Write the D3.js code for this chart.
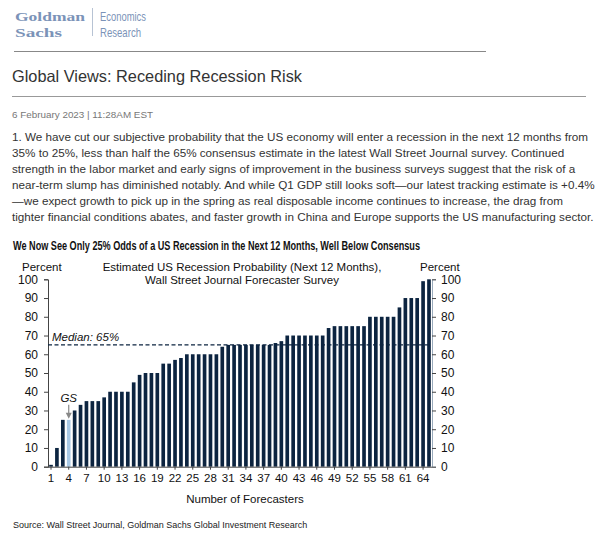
<!DOCTYPE html>
<html><head><meta charset="utf-8">
<script src="https://cdn.jsdelivr.net/npm/d3@7"></script>
<style>
html,body{margin:0;padding:0;background:#fff;}
svg{display:block;}
</style></head>
<body>
<svg id="c" width="600" height="536"></svg>
<script>
// ---- data ----
const forecasters = d3.range(1, 66);
const probabilities = [1,10,25,25,30,33,35,35,35,37,40,40,40,40,45,49,50,50,50,55,55,57,58,60,60,60,60,60,60,64,
  65,65,65,65,65,65,65,65,66,67,70,70,70,70,70,70,70,74,75,75,75,75,75,75,80,80,80,80,80,85,90,90,90,99,100];
const gsIndex = 4;
const medianValue = 65;
const yTicks = [0,10,20,30,40,50,60,70,80,90,100];
const xTickLabels = [1,4,7,10,13,16,19,22,25,28,31,34,37,40,43,46,49,52,55,58,61,64];
const paragraph = [
 "1. We have cut our subjective probability that the US economy will enter a recession in the next 12 months from",
 "35% to 25%, less than half the 65% consensus estimate in the latest Wall Street Journal survey. Continued",
 "strength in the labor market and early signs of improvement in the business surveys suggest that the risk of a",
 "near-term slump has diminished notably. And while Q1 GDP still looks soft\u2014our latest tracking estimate is +0.4%",
 "\u2014we expect growth to pick up in the spring as real disposable income continues to increase, the drag from",
 "tighter financial conditions abates, and faster growth in China and Europe supports the US manufacturing sector."
];

const svg = d3.select("#c");
const SANS = "'Liberation Sans', Arial, sans-serif";
const NARROW = "'Liberation Sans Narrow', 'Liberation Sans', Arial, sans-serif";

// ---- header / logo ----
const logoC = "#7b93b8";
const SERIF = "'Liberation Serif','DejaVu Serif',serif";
svg.append("text").attr("x",15).attr("y",21).attr("font-family",SERIF).attr("font-weight","bold").attr("font-size",13.5).attr("fill",logoC)
  .attr("textLength",70).attr("lengthAdjust","spacingAndGlyphs").text("Goldman");
svg.append("text").attr("x",15).attr("y",37).attr("font-family",SERIF).attr("font-weight","bold").attr("font-size",13.5).attr("fill",logoC)
  .attr("textLength",47).attr("lengthAdjust","spacingAndGlyphs").text("Sachs");
svg.append("line").attr("x1",92.5).attr("x2",92.5).attr("y1",8).attr("y2",36).attr("stroke","#b7c3d4").attr("stroke-width",1);
svg.append("text").attr("x",100).attr("y",21).attr("font-family",NARROW).attr("font-size",13.5).attr("fill",logoC)
  .attr("textLength",46).attr("lengthAdjust","spacingAndGlyphs").text("Economics");
svg.append("text").attr("x",100).attr("y",37).attr("font-family",NARROW).attr("font-size",13.5).attr("fill",logoC)
  .attr("textLength",41).attr("lengthAdjust","spacingAndGlyphs").text("Research");
svg.append("line").attr("x1",14).attr("x2",486).attr("y1",51.5).attr("y2",51.5).attr("stroke","#888").attr("stroke-width",1);

svg.append("text").attr("x",12).attr("y",82).attr("font-family",SANS).attr("font-size",16.5).attr("fill","#333")
  .attr("textLength",290).attr("lengthAdjust","spacingAndGlyphs")
  .text("Global Views: Receding Recession Risk");
svg.append("line").attr("x1",12).attr("x2",586).attr("y1",96.5).attr("y2",96.5).attr("stroke","#999").attr("stroke-width",1);
svg.append("text").attr("x",12).attr("y",118).attr("font-family",SANS).attr("font-size",9.5).attr("fill","#777")
  .attr("textLength",141).attr("lengthAdjust","spacingAndGlyphs")
  .text("6 February 2023 | 11:28AM EST");

const para = svg.append("text").attr("font-family",SANS).attr("font-size",11.7).attr("fill","#333");
paragraph.forEach((l,i)=>{
  para.append("tspan").attr("x",12).attr("y",141 + i*16).text(l);
});

// ---- chart ----
svg.append("text").attr("x",13).attr("y",250).attr("font-family",NARROW).attr("font-weight","bold")
  .attr("font-size",12).attr("fill","#111").attr("textLength",407).attr("lengthAdjust","spacingAndGlyphs")
  .text("We Now See Only 25% Odds of a US Recession in the Next 12 Months, Well Below Consensus");

const x0 = 48, x1 = 432, yBase = 466.7, yTop = 279.3;
const x = d3.scaleBand().domain(forecasters).range([x0, x1]).paddingInner(0.38).paddingOuter(0.2);
const y = d3.scaleLinear().domain([0,100]).range([yBase, yTop]);

const axisFont = (g)=>g.selectAll("text").attr("font-family",NARROW).attr("font-size",12).attr("fill","#111");

// left axis
const gl = svg.append("g").attr("transform",`translate(${x0},0)`)
  .call(d3.axisLeft(y).tickValues(yTicks).tickSize(4).tickPadding(6));
gl.select(".domain").attr("stroke","#444");
gl.selectAll(".tick line").attr("stroke","#444");
axisFont(gl);

// right axis
const gr = svg.append("g").attr("transform",`translate(${x1},0)`)
  .call(d3.axisRight(y).tickValues(yTicks).tickSize(4).tickPadding(5));
gr.select(".domain").attr("stroke","#9ab");
gr.selectAll(".tick line").attr("stroke","#444");
axisFont(gr);

// bars
svg.append("g").selectAll("rect").data(forecasters).join("rect")
  .attr("x", d=>x(d)).attr("width", x.bandwidth())
  .attr("y", (d,i)=>y(probabilities[i])).attr("height",(d,i)=>yBase - y(probabilities[i]))
  .attr("fill", d=> d===gsIndex ? "#a9c9e6" : "#0c2440");

// x axis
const gx = svg.append("g").attr("transform",`translate(0,${yBase})`)
  .call(d3.axisBottom(x).tickValues(xTickLabels).tickSize(3).tickPadding(4).tickSizeOuter(0));
gx.select(".domain").attr("stroke","#444").attr("d",`M${x0},0.5H${x1}`);
gx.selectAll(".tick line").attr("stroke","#444");
axisFont(gx);
gx.selectAll("text").attr("font-size",11.5);

// median line
svg.append("line").attr("x1",x0).attr("x2",x1-2).attr("y1",y(medianValue)).attr("y2",y(medianValue))
  .attr("stroke","#0c2440").attr("stroke-width",1.3).attr("stroke-dasharray","4,2.5");
svg.append("text").attr("x",52).attr("y",y(medianValue)-4).attr("font-family",NARROW).attr("font-style","italic")
  .attr("font-size",11.5).attr("fill","#111").text("Median:  " + medianValue + "%");

// GS annotation
const gsx = x(gsIndex) + x.bandwidth()/2;
const gsTop = y(probabilities[gsIndex-1]);
svg.append("text").attr("x",gsx).attr("y",gsTop-18).attr("text-anchor","middle").attr("font-family",NARROW)
  .attr("font-style","italic").attr("font-size",11.5).attr("fill","#111").text("GS");
svg.append("line").attr("x1",gsx).attr("x2",gsx).attr("y1",gsTop-15).attr("y2",gsTop-4).attr("stroke","#888").attr("stroke-width",1.2);
svg.append("path").attr("d",`M${gsx-3},${gsTop-7}L${gsx+3},${gsTop-7}L${gsx},${gsTop-1}Z`).attr("fill","#888");

// labels
svg.append("text").attr("x",22).attr("y",271).attr("font-family",NARROW).attr("font-size",11.5).attr("fill","#111").text("Percent");
svg.append("text").attr("x",420).attr("y",271).attr("font-family",NARROW).attr("font-size",11.5).attr("fill","#111").text("Percent");
svg.append("text").attr("x",242).attr("y",271).attr("text-anchor","middle").attr("font-family",NARROW).attr("font-size",11.5).attr("fill","#111")
  .text("Estimated US Recession Probability (Next 12 Months),");
svg.append("text").attr("x",242).attr("y",284).attr("text-anchor","middle").attr("font-family",NARROW).attr("font-size",11.5).attr("fill","#111")
  .text("Wall Street Journal Forecaster Survey");
svg.append("text").attr("x",245).attr("y",503).attr("text-anchor","middle").attr("font-family",NARROW).attr("font-size",11.5).attr("fill","#111")
  .text("Number of Forecasters");
svg.append("text").attr("x",13).attr("y",528).attr("font-family",NARROW).attr("font-size",9).attr("fill","#222")
  .text("Source: Wall Street Journal, Goldman Sachs Global Investment Research");
</script>
</body></html>
